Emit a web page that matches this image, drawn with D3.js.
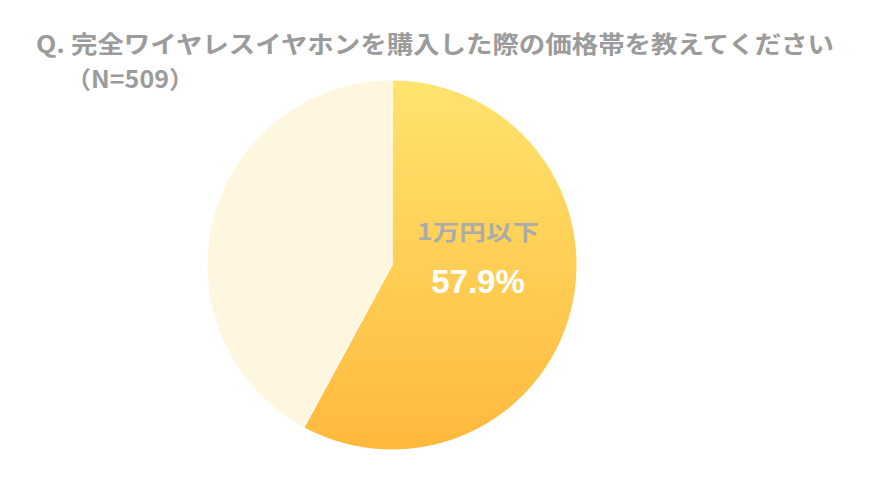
<!DOCTYPE html><html><head><meta charset="utf-8"><script src="https://cdn.jsdelivr.net/npm/d3@7"></script>
<style>body{margin:0;background:#fff}</style></head><body><svg id="c" width="870" height="484"></svg>
<script>
const categories=["1万円以下","1万円超"];
const values=[57.9,42.1];
const labels=["1万円以下","57.9%"];
const svg=d3.select("#c");
const font="'Noto Sans CJK JP','Noto Sans',sans-serif";
const defs=svg.append("defs");
const g1=defs.append("linearGradient").attr("id","gr").attr("x1",0).attr("y1",0).attr("x2",0).attr("y2",1);
g1.append("stop").attr("offset","0%").attr("stop-color","#FFE46E");
g1.append("stop").attr("offset","100%").attr("stop-color","#FFB93C");
svg.append("text").attr("x",36).attr("y",53).attr("font-family",font).attr("font-weight","bold").attr("font-size",24).attr("fill","#9b9b9b")
 .attr("textLength",798).attr("lengthAdjust","spacingAndGlyphs").text("Q. 完全ワイヤレスイヤホンを購入した際の価格帯を教えてください");
svg.append("text").attr("x",66).attr("y",88).attr("font-family",font).attr("font-weight","bold").attr("font-size",24).attr("fill","#9b9b9b")
 .attr("textLength",128).attr("lengthAdjust","spacingAndGlyphs").text("（N=509）");
const cx=392,cy=265,r=185;
const pie=d3.pie().sort(null)(values);
const arc=d3.arc().innerRadius(0).outerRadius(r);
const g=svg.append("g").attr("transform",`translate(${cx},${cy})`);
g.selectAll("path").data(pie).join("path").attr("d",arc)
 .attr("fill",(d,i)=>i===0?"url(#gr)":"#FFF6DF")
 .attr("stroke","#fff").attr("stroke-width",1);
const xs=d3.scaleLinear().domain([0,1]).range([cx,cx+r]);
svg.append("text").attr("x",xs(0.465)).attr("y",240).attr("text-anchor","middle").attr("font-family",font).attr("font-weight","bold").attr("font-size",22).attr("fill","#ababab")
 .attr("textLength",122).attr("lengthAdjust","spacingAndGlyphs").text(labels[0]);
svg.append("text").attr("x",xs(0.465)).attr("y",293).attr("text-anchor","middle").attr("font-family","'Liberation Sans',Arial,sans-serif").attr("font-weight","bold").attr("font-size",33).attr("fill","#fff").text(labels[1]);
</script></body></html>
